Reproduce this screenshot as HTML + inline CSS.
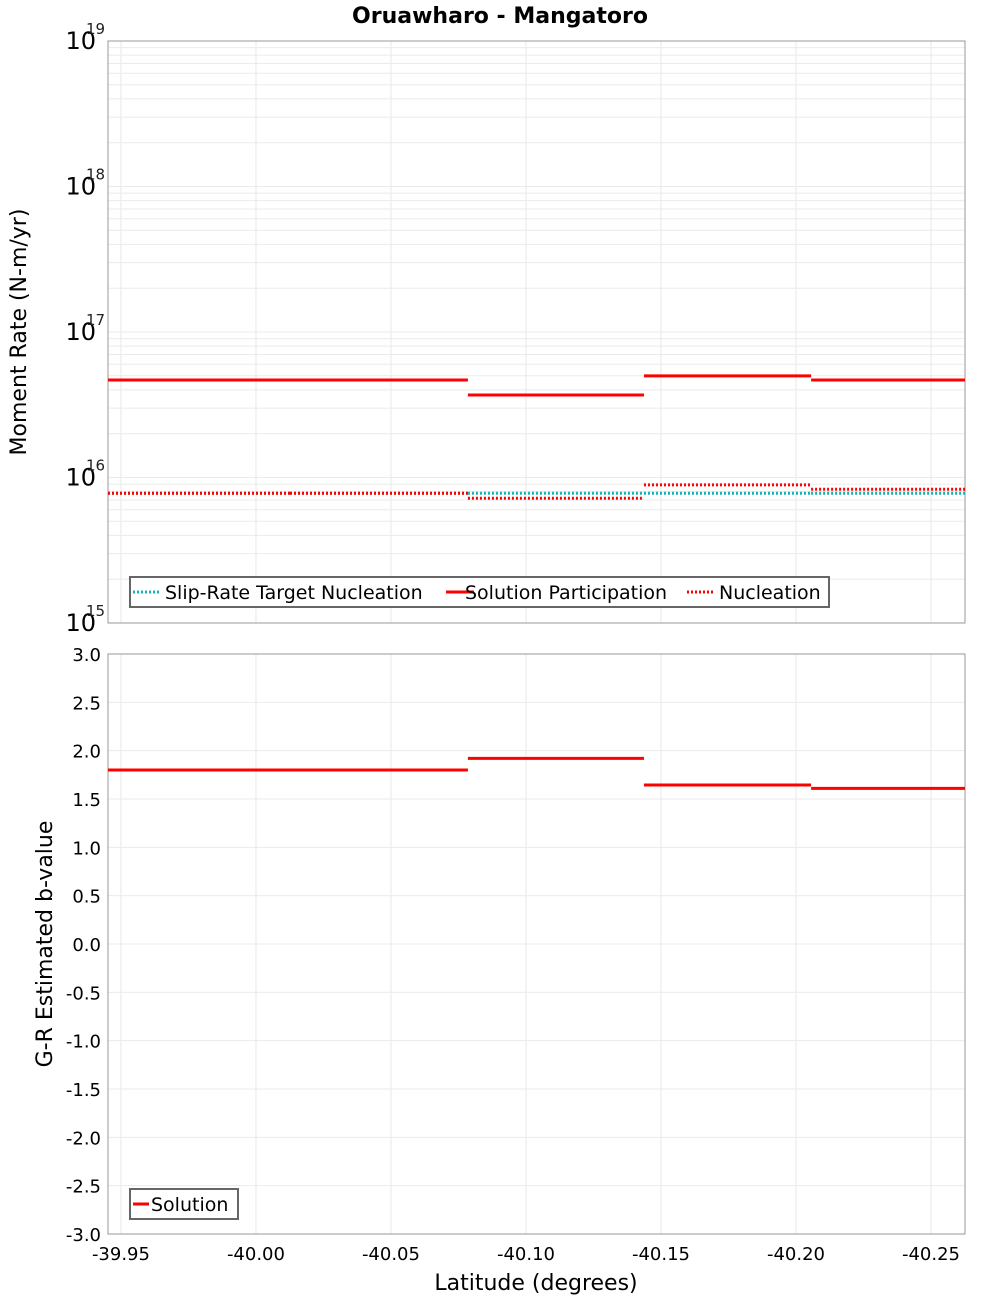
<!DOCTYPE html>
<html><head><meta charset="utf-8"><style>
body{margin:0;background:#fff;}
svg text{font-family:"DejaVu Sans","Liberation Sans",sans-serif;}
</style></head><body>
<svg id="c" width="1000" height="1300" xmlns="http://www.w3.org/2000/svg">
<text x="500" y="23" text-anchor="middle" font-size="22" font-weight="bold">Oruawharo - Mangatoro</text>
<g id="topg"></g><g id="botg"></g>
<text x="536" y="1290" text-anchor="middle" font-size="22">Latitude (degrees)</text>
<text transform="translate(26,332) rotate(-90)" text-anchor="middle" font-size="22">Moment Rate (N-m/yr)</text>
<text transform="translate(52,944) rotate(-90)" text-anchor="middle" font-size="22">G-R Estimated b-value</text>
</svg>
<script>
const bounds=[-39.9452,-40.0126,-40.0785,-40.1437,-40.2056,-40.2626];
const participation=[4.68e16,4.68e16,3.69e16,4.99e16,4.68e16];
const nucleation=[7.8e15,7.8e15,7.2e15,8.9e15,8.3e15];
const target=[7.8e15,7.8e15,7.8e15,7.8e15,7.8e15];
const bvalues=[1.80,1.80,1.92,1.645,1.61];
const xTicks=[-39.95,-40.00,-40.05,-40.10,-40.15,-40.20,-40.25];
const xTickLabels=["-39.95","-40.00","-40.05","-40.10","-40.15","-40.20","-40.25"];
const bTicks=[3,2.5,2,1.5,1,0.5,0,-0.5,-1,-1.5,-2,-2.5,-3];
const decades=[15,16,17,18,19];

const NS='http://www.w3.org/2000/svg';
const L=108,R=965,T1=41,B1=623,T2=654,B2=1234;
const X0=-39.9452,X1=-40.2626;
const x=v=>L+(v-X0)/(X1-X0)*(R-L);
const yT=v=>B1-(Math.log10(v)-15)/4*(B1-T1);
const yB=v=>B2-(v+3)/6*(B2-T2);
function el(p,t,a){const e=document.createElementNS(NS,t);for(const k in a)e.setAttribute(k,a[k]);p.appendChild(e);return e;}
const topG=document.getElementById('topg'),botG=document.getElementById('botg');

for(const g of [[topG,T1,B1],[botG,T2,B2]]){
  for(let v=-39.95;v>=-40.26;v-=0.05){const l=el(g[0],'line',{x1:x(v),x2:x(v),y1:g[1],y2:g[2],stroke:'#e8e8e8'});
  
  }
}
for(let d=15;d<19;d++)for(let m=1;m<10;m++){const yy=yT(m*Math.pow(10,d));const l=el(topG,'line',{x1:L,x2:R,y1:yy,y2:yy,stroke:'#ebebeb'});
  
  }
bTicks.forEach(v=>{const l=el(botG,'line',{x1:L,x2:R,y1:yB(v),y2:yB(v),stroke:'#ebebeb'});
  
  });

for(const g of [[topG,T1,B1,'top-plot-area'],[botG,T2,B2,'bottom-plot-area']]){const r=el(g[0],'rect',{x:L,y:g[1],width:R-L,height:g[2]-g[1],fill:'none',stroke:'#999'});
  
  }

decades.forEach(d=>{const t=el(topG,'text',{x:96,y:yT(Math.pow(10,d))+8,'text-anchor':'end','font-size':24});t.textContent='10';
  
  
  const s=el(topG,'text',{x:86,y:yT(Math.pow(10,d))-7,'font-size':15,fill:'#222'});s.textContent=String(d);
  
  });
bTicks.forEach(v=>{const t=el(botG,'text',{x:101,y:yB(v)+7,'text-anchor':'end','font-size':18});t.textContent=v.toFixed(1);
  
  });
xTicks.forEach((v,i)=>{const t=el(botG,'text',{x:x(v),y:1260,'text-anchor':'middle','font-size':18});t.textContent=xTickLabels[i];
  
  });

function seg(p,vals,fy,color,dash,name){
  vals.forEach((v,i)=>{const a={x1:x(bounds[i]),x2:x(bounds[i+1]),y1:fy(v),y2:fy(v),stroke:color,'stroke-width':3};
  if(dash)a['stroke-dasharray']='2,2';const l=el(p,'line',a);
  
  });
}
seg(topG,target,yT,'#14b4b4',true,'target-nucleation-segment');
seg(topG,nucleation,yT,'#f00',true,'nucleation-segment');
seg(topG,participation,yT,'#f00',false,'participation-segment');
seg(botG,bvalues,yB,'#f00',false,'b-value-segment');

const lg=el(topG,'g',{});


el(lg,'rect',{x:130,y:577,width:699,height:30,fill:'#fff',stroke:'#666','stroke-width':2});
const items=[[133,'#14b4b4',true,'Slip-Rate Target Nucleation',165],[446,'#f00',false,'Solution Participation',465],[687,'#f00',true,'Nucleation',719]];
items.forEach(it=>{el(lg,'line',{x1:it[0],x2:it[0]+28,y1:592,y2:592,stroke:it[1],'stroke-width':3,'stroke-dasharray':it[2]?'2,2':'none'});
  const t=el(lg,'text',{x:it[4],y:599,'font-size':19});t.textContent=it[3];
  
  });
const lg2=el(botG,'g',{});


el(lg2,'rect',{x:130,y:1189,width:108,height:30,fill:'#fff',stroke:'#666','stroke-width':2});
el(lg2,'line',{x1:133,x2:149,y1:1204,y2:1204,stroke:'#f00','stroke-width':3});
const t2=el(lg2,'text',{x:151,y:1211,'font-size':19});t2.textContent='Solution';


</script>
</body></html>
